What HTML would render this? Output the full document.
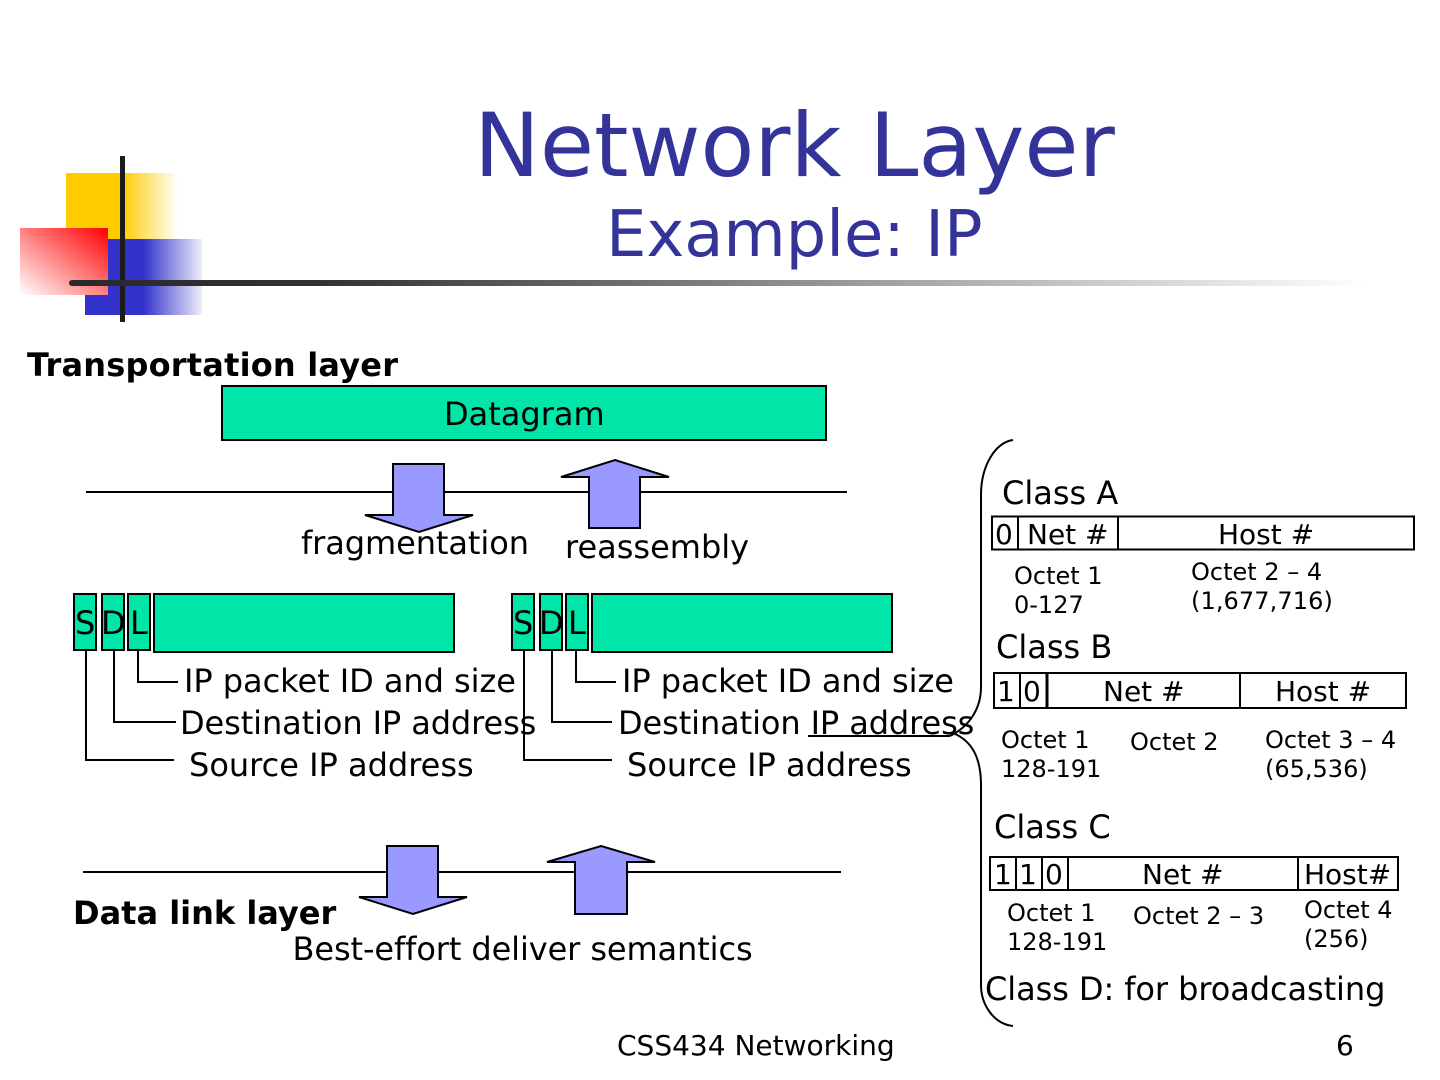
<!DOCTYPE html>
<html><head><meta charset="utf-8"><style>html,body{margin:0;padding:0;background:#fff}svg{display:block}text{font-family:"DejaVu Sans",sans-serif;fill:#000}</style></head><body>
<svg xmlns="http://www.w3.org/2000/svg" width="1440" height="1080" viewBox="0 0 1440 1080">
<defs>
<linearGradient id="gy" x1="0" x2="1" y1="0" y2="0"><stop offset="0.5" stop-color="#FFCC00"/><stop offset="1" stop-color="#fff"/></linearGradient>
<linearGradient id="gb" x1="0" x2="1" y1="0" y2="0"><stop offset="0.5" stop-color="#3333CC"/><stop offset="1" stop-color="#eeeefa"/></linearGradient>
<linearGradient id="gr" x1="1" x2="0" y1="0" y2="1"><stop offset="0" stop-color="#FF0000"/><stop offset="1" stop-color="#fff"/></linearGradient>
<linearGradient id="gl" x1="0" x2="1" y1="0" y2="0"><stop offset="0" stop-color="#2a2a2a"/><stop offset="0.2" stop-color="#333"/><stop offset="1" stop-color="#fff"/></linearGradient>
</defs>
<rect x="66" y="173" width="112" height="67" fill="url(#gy)"/>
<rect x="85" y="239" width="117" height="76" fill="url(#gb)"/>
<rect x="20" y="228" width="88" height="67" fill="url(#gr)"/>
<rect x="120" y="156" width="5" height="166" fill="#1c1c1c"/>
<rect x="69" y="280" width="1296" height="6" rx="3" fill="url(#gl)"/>
<text x="474" y="176" font-size="88" style="fill:#333399">Network Layer</text>
<text x="606" y="256" font-size="64" style="fill:#333399" letter-spacing="-0.05">Example: IP</text>
<text x="27" y="376" font-size="32" font-weight="bold" letter-spacing="0.2">Transportation layer</text>
<g fill="#00E6A8" stroke="#000" stroke-width="2">
<rect x="222" y="386" width="604" height="54"/>
<rect x="74" y="594" width="22" height="56"/><rect x="102" y="594" width="22" height="56"/><rect x="128" y="594" width="22" height="56"/><rect x="154" y="594" width="300" height="58"/>
<rect x="512" y="594" width="22" height="56"/><rect x="540" y="594" width="22" height="56"/><rect x="566" y="594" width="22" height="56"/><rect x="592" y="594" width="300" height="58"/>
</g>
<g fill="none" stroke="#000" stroke-width="2">
<path d="M86 492H847M83 872H841"/>
<path d="M138 650V682H178M114 650V722H176M86 650V760H174"/>
<path d="M576 650V682H616M552 650V722H612M524 650V760H612"/>
<path d="M808 736H950"/>
<path d="M1013 440C996 442 981 465 981 495V687C981 708 970 726 950 736"/>
<path d="M953 733C970 740 981 755 981 785V985C981 1005 994 1024 1013 1026"/>
</g>
<g fill="#9999FF" stroke="#000" stroke-width="2">
<path d="M393 464H444V515H473L419 532L365 515H393Z"/>
<path d="M615 460L669 477H640V528H589V477H561Z"/>
<path d="M387 846H438V897H467L413 914L359 897H387Z"/>
<path d="M601 846L655 862H627V914H575V862H547Z"/>
</g>
<g fill="#fff" stroke="#000" stroke-width="2">
<rect x="992" y="516.5" width="422" height="33"/><path d="M1018 517V550M1118 517V550"/>
<rect x="994" y="673" width="412" height="35"/><path d="M1020 673V708M1240 673V708"/><path d="M1047 672V708" stroke-width="3"/>
<rect x="990" y="857" width="408" height="33"/><path d="M1016 857V890M1042 857V890M1068 857V890M1298 857V890"/>
</g>
<g font-size="32">
<text x="444" y="425">Datagram</text>
<text x="301" y="554" letter-spacing="-0.08">fragmentation</text>
<text x="565" y="558">reassembly</text>
<text x="75" y="634">S</text><text x="101" y="634">D</text><text x="130" y="634">L</text>
<text x="513" y="634">S</text><text x="539" y="634">D</text><text x="568" y="634">L</text>
<text x="184" y="692" letter-spacing="-0.05">IP packet ID and size</text>
<text x="180" y="734" letter-spacing="-0.1">Destination IP address</text>
<text x="189" y="776">Source IP address</text>
<text x="622" y="692" letter-spacing="-0.05">IP packet ID and size</text>
<text x="618" y="734" letter-spacing="-0.1">Destination IP address</text>
<text x="627" y="776">Source IP address</text>
<text x="292.5" y="960" letter-spacing="-0.1">Best-effort deliver semantics</text>
<text x="1002" y="504">Class A</text>
<text x="996" y="658">Class B</text>
<text x="994" y="838">Class C</text>
<text x="985" y="1000" letter-spacing="-0.08">Class D: for broadcasting</text>
</g>
<text x="73" y="924" font-size="32" font-weight="bold">Data link layer</text>
<g font-size="28">
<text x="995" y="544">0</text><text x="1027" y="544">Net #</text><text x="1218" y="544">Host #</text>
<text x="997" y="701">1</text><text x="1023" y="701">0</text><text x="1103" y="701">Net #</text><text x="1275" y="701">Host #</text>
<text x="994" y="884">1</text><text x="1019" y="884">1</text><text x="1045" y="884">0</text><text x="1142" y="884">Net #</text><text x="1304" y="884">Host#</text>
<text x="617" y="1055">CSS434 Networking</text><text x="1336" y="1055">6</text>
</g>
<g font-size="24">
<text x="1014" y="584">Octet 1</text><text x="1014" y="613">0-127</text>
<text x="1191" y="580">Octet 2 – 4</text><text x="1191" y="609" letter-spacing="0.1">(1,677,716)</text>
<text x="1001" y="748">Octet 1</text><text x="1001" y="777">128-191</text>
<text x="1130" y="750">Octet 2</text>
<text x="1265" y="748">Octet 3 – 4</text><text x="1265" y="777">(65,536)</text>
<text x="1007" y="921">Octet 1</text><text x="1007" y="950">128-191</text>
<text x="1133" y="924">Octet 2 – 3</text>
<text x="1304" y="918">Octet 4</text><text x="1304" y="947">(256)</text>
</g>
</svg>
</body></html>
